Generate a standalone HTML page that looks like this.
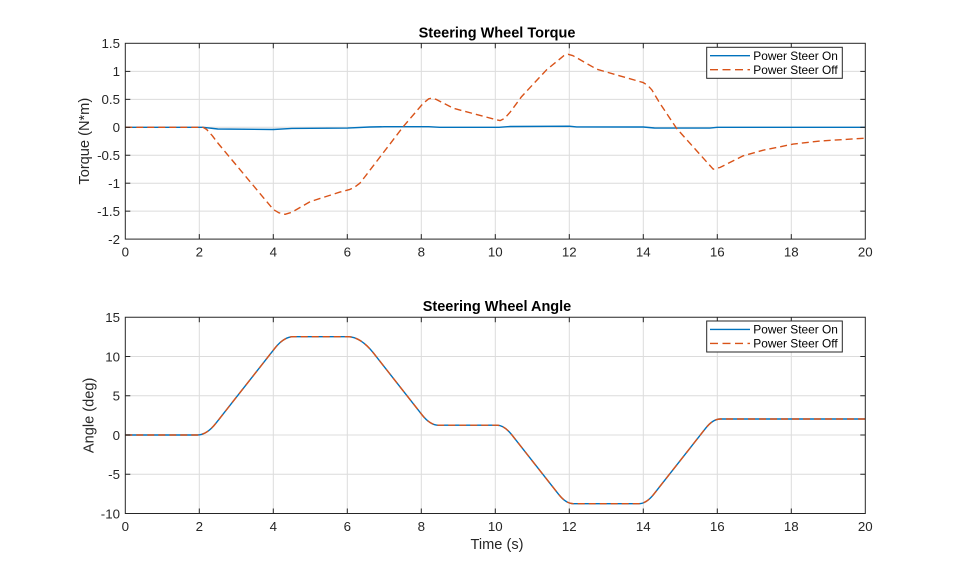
<!DOCTYPE html>
<html>
<head>
<meta charset="utf-8">
<style>
html,body{margin:0;padding:0;background:#ffffff;}
svg{display:block;}
text{font-family:"Liberation Sans",Arial,sans-serif;fill:#262626;}
.tk{font-size:13.3px;}
.ttl{font-size:14.5px;font-weight:bold;fill:#000;}
.lbl{font-size:14.6px;}
.lg{font-size:11.9px;fill:#000;}
.grid line{stroke:#dcdcdc;stroke-width:1;}
.ax{fill:none;stroke:#262626;stroke-width:1;}
.tick line{stroke:#262626;stroke-width:1;}
</style>
</head>
<body>
<svg width="959" height="577" viewBox="0 0 959 577" xmlns="http://www.w3.org/2000/svg">
<rect x="0" y="0" width="959" height="577" fill="#ffffff"/>

<!-- ================= TOP AXES ================= -->
<g class="grid">
  <line x1="199.3" y1="43.3" x2="199.3" y2="239.1"/>
  <line x1="273.3" y1="43.3" x2="273.3" y2="239.1"/>
  <line x1="347.3" y1="43.3" x2="347.3" y2="239.1"/>
  <line x1="421.3" y1="43.3" x2="421.3" y2="239.1"/>
  <line x1="495.3" y1="43.3" x2="495.3" y2="239.1"/>
  <line x1="569.3" y1="43.3" x2="569.3" y2="239.1"/>
  <line x1="643.3" y1="43.3" x2="643.3" y2="239.1"/>
  <line x1="717.3" y1="43.3" x2="717.3" y2="239.1"/>
  <line x1="791.3" y1="43.3" x2="791.3" y2="239.1"/>
  <line x1="125.3" y1="71.4" x2="865.3" y2="71.4"/>
  <line x1="125.3" y1="99.35" x2="865.3" y2="99.35"/>
  <line x1="125.3" y1="127.3" x2="865.3" y2="127.3"/>
  <line x1="125.3" y1="155.25" x2="865.3" y2="155.25"/>
  <line x1="125.3" y1="183.2" x2="865.3" y2="183.2"/>
  <line x1="125.3" y1="211.15" x2="865.3" y2="211.15"/>
</g>

<!-- Power Steer On (torque) -->
<polyline fill="none" stroke="#0072BD" stroke-width="1.4" stroke-linejoin="round"
 points="125.3,127.3 203,127.3 217.8,129.0 273.3,129.5 291.8,128.4 347.3,128.1 369.5,127.0 384.3,126.7 428.7,126.7 439.8,127.3 499,127.3 510.1,126.5 569.3,126.2 576.7,126.9 643.3,127.0 654.4,128.0 709.9,128.1 717.3,127.3 865.3,127.3"/>
<!-- Power Steer Off (torque) -->
<polyline fill="none" stroke="#D95319" stroke-width="1.4" stroke-dasharray="7,4" stroke-linejoin="round"
 points="125.3,127.3 203.0,127.3 206.7,129.5 212.3,135.7 217.8,143.0 273.3,209.5 278.9,212.8 285.1,214.3 291.8,212.3 310.3,201.6 339.9,192.1 349.9,189.4 354.7,187.1 359.9,183.2 365.1,176.5 403.2,126.7 423.2,103.3 428.7,98.8 431.7,98.2 436.1,99.35 453.5,108.3 495.3,119.5 500.1,120.6 504.6,118.4 510.1,112.2 521.6,96.6 546.7,69.7 563.8,55.7 568.2,54.3 573.0,55.7 596.7,69.2 620.0,75.9 643.3,82.6 647.7,85.4 651.8,89.8 659.9,103.3 676.6,128.4 713.2,169.2 719.9,167.5 743.2,155.8 763.2,150.2 793.2,144.1 820.2,141.0 865.3,138.2"/>

<rect class="ax" x="125.3" y="43.3" width="740" height="195.8"/>
<g class="tick">
  <!-- bottom ticks -->
  <line x1="199.3" y1="239.1" x2="199.3" y2="234.1"/><line x1="273.3" y1="239.1" x2="273.3" y2="234.1"/>
  <line x1="347.3" y1="239.1" x2="347.3" y2="234.1"/><line x1="421.3" y1="239.1" x2="421.3" y2="234.1"/>
  <line x1="495.3" y1="239.1" x2="495.3" y2="234.1"/><line x1="569.3" y1="239.1" x2="569.3" y2="234.1"/>
  <line x1="643.3" y1="239.1" x2="643.3" y2="234.1"/><line x1="717.3" y1="239.1" x2="717.3" y2="234.1"/>
  <line x1="791.3" y1="239.1" x2="791.3" y2="234.1"/>
  <!-- top ticks -->
  <line x1="199.3" y1="43.3" x2="199.3" y2="48.3"/><line x1="273.3" y1="43.3" x2="273.3" y2="48.3"/>
  <line x1="347.3" y1="43.3" x2="347.3" y2="48.3"/><line x1="421.3" y1="43.3" x2="421.3" y2="48.3"/>
  <line x1="495.3" y1="43.3" x2="495.3" y2="48.3"/><line x1="569.3" y1="43.3" x2="569.3" y2="48.3"/>
  <line x1="643.3" y1="43.3" x2="643.3" y2="48.3"/><line x1="717.3" y1="43.3" x2="717.3" y2="48.3"/>
  <line x1="791.3" y1="43.3" x2="791.3" y2="48.3"/>
  <!-- left ticks -->
  <line x1="125.3" y1="71.4" x2="130.3" y2="71.4"/><line x1="125.3" y1="99.35" x2="130.3" y2="99.35"/>
  <line x1="125.3" y1="127.3" x2="130.3" y2="127.3"/><line x1="125.3" y1="155.25" x2="130.3" y2="155.25"/>
  <line x1="125.3" y1="183.2" x2="130.3" y2="183.2"/><line x1="125.3" y1="211.15" x2="130.3" y2="211.15"/>
  <!-- right ticks -->
  <line x1="865.3" y1="71.4" x2="860.3" y2="71.4"/><line x1="865.3" y1="99.35" x2="860.3" y2="99.35"/>
  <line x1="865.3" y1="127.3" x2="860.3" y2="127.3"/><line x1="865.3" y1="155.25" x2="860.3" y2="155.25"/>
  <line x1="865.3" y1="183.2" x2="860.3" y2="183.2"/><line x1="865.3" y1="211.15" x2="860.3" y2="211.15"/>
</g>
<g class="tk" text-anchor="end">
  <text x="120" y="48.2">1.5</text>
  <text x="120" y="76.2">1</text>
  <text x="120" y="104.1">0.5</text>
  <text x="120" y="132.1">0</text>
  <text x="120" y="160">-0.5</text>
  <text x="120" y="188">-1</text>
  <text x="120" y="215.9">-1.5</text>
  <text x="120" y="243.9">-2</text>
</g>
<g class="tk" text-anchor="middle">
  <text x="125.3" y="256.5">0</text><text x="199.3" y="256.5">2</text><text x="273.3" y="256.5">4</text>
  <text x="347.3" y="256.5">6</text><text x="421.3" y="256.5">8</text><text x="495.3" y="256.5">10</text>
  <text x="569.3" y="256.5">12</text><text x="643.3" y="256.5">14</text><text x="717.3" y="256.5">16</text>
  <text x="791.3" y="256.5">18</text><text x="865.3" y="256.5">20</text>
</g>
<text class="ttl" x="497" y="37.5" text-anchor="middle">Steering Wheel Torque</text>
<text class="lbl" transform="translate(89,141.2) rotate(-90)" text-anchor="middle">Torque (N*m)</text>

<!-- top legend -->
<rect x="706.7" y="47.3" width="135.6" height="31" fill="#ffffff" stroke="#262626" stroke-width="1"/>
<line x1="710" y1="55.7" x2="750" y2="55.7" stroke="#0072BD" stroke-width="1.4"/>
<line x1="710" y1="69.7" x2="750" y2="69.7" stroke="#D95319" stroke-width="1.4" stroke-dasharray="8,4.5"/>
<text class="lg" x="753.3" y="60">Power Steer On</text>
<text class="lg" x="753.3" y="74">Power Steer Off</text>

<!-- ================= BOTTOM AXES ================= -->
<g class="grid">
  <line x1="199.3" y1="317.25" x2="199.3" y2="513.5"/>
  <line x1="273.3" y1="317.25" x2="273.3" y2="513.5"/>
  <line x1="347.3" y1="317.25" x2="347.3" y2="513.5"/>
  <line x1="421.3" y1="317.25" x2="421.3" y2="513.5"/>
  <line x1="495.3" y1="317.25" x2="495.3" y2="513.5"/>
  <line x1="569.3" y1="317.25" x2="569.3" y2="513.5"/>
  <line x1="643.3" y1="317.25" x2="643.3" y2="513.5"/>
  <line x1="717.3" y1="317.25" x2="717.3" y2="513.5"/>
  <line x1="791.3" y1="317.25" x2="791.3" y2="513.5"/>
  <line x1="125.3" y1="356.5" x2="865.3" y2="356.5"/>
  <line x1="125.3" y1="395.75" x2="865.3" y2="395.75"/>
  <line x1="125.3" y1="435" x2="865.3" y2="435"/>
  <line x1="125.3" y1="474.25" x2="865.3" y2="474.25"/>
</g>

<path fill="none" stroke="#0072BD" stroke-width="1.4" stroke-linejoin="round"
 d="M125.3,435 L197.45,435 Q206.7,435 215.95,423.2 L274.8,348.3 Q284.0,336.7 293.3,336.7 L347.7,336.7 Q360.6,336.7 373.6,353.2 L422.0,414.8 Q430.2,425.2 438.3,425.2 L496.8,425.2 Q504.2,425.2 511.6,434.6 L558.6,494.3 Q566,503.7 573.4,503.7 L638.9,503.7 Q646.3,503.7 653.7,494.3 L705.5,428.4 Q712.9,419 720.3,419 L865.3,419"/>
<path fill="none" stroke="#D95319" stroke-width="1.4" stroke-dasharray="7,4" stroke-linejoin="round"
 d="M125.3,435 L197.45,435 Q206.7,435 215.95,423.2 L274.8,348.3 Q284.0,336.7 293.3,336.7 L347.7,336.7 Q360.6,336.7 373.6,353.2 L422.0,414.8 Q430.2,425.2 438.3,425.2 L496.8,425.2 Q504.2,425.2 511.6,434.6 L558.6,494.3 Q566,503.7 573.4,503.7 L638.9,503.7 Q646.3,503.7 653.7,494.3 L705.5,428.4 Q712.9,419 720.3,419 L865.3,419"/>

<rect class="ax" x="125.3" y="317.25" width="740" height="196.25"/>
<g class="tick">
  <line x1="199.3" y1="513.5" x2="199.3" y2="508.5"/><line x1="273.3" y1="513.5" x2="273.3" y2="508.5"/>
  <line x1="347.3" y1="513.5" x2="347.3" y2="508.5"/><line x1="421.3" y1="513.5" x2="421.3" y2="508.5"/>
  <line x1="495.3" y1="513.5" x2="495.3" y2="508.5"/><line x1="569.3" y1="513.5" x2="569.3" y2="508.5"/>
  <line x1="643.3" y1="513.5" x2="643.3" y2="508.5"/><line x1="717.3" y1="513.5" x2="717.3" y2="508.5"/>
  <line x1="791.3" y1="513.5" x2="791.3" y2="508.5"/>
  <line x1="199.3" y1="317.25" x2="199.3" y2="322.25"/><line x1="273.3" y1="317.25" x2="273.3" y2="322.25"/>
  <line x1="347.3" y1="317.25" x2="347.3" y2="322.25"/><line x1="421.3" y1="317.25" x2="421.3" y2="322.25"/>
  <line x1="495.3" y1="317.25" x2="495.3" y2="322.25"/><line x1="569.3" y1="317.25" x2="569.3" y2="322.25"/>
  <line x1="643.3" y1="317.25" x2="643.3" y2="322.25"/><line x1="717.3" y1="317.25" x2="717.3" y2="322.25"/>
  <line x1="791.3" y1="317.25" x2="791.3" y2="322.25"/>
  <line x1="125.3" y1="356.5" x2="130.3" y2="356.5"/><line x1="125.3" y1="395.75" x2="130.3" y2="395.75"/>
  <line x1="125.3" y1="435" x2="130.3" y2="435"/><line x1="125.3" y1="474.25" x2="130.3" y2="474.25"/>
  <line x1="865.3" y1="356.5" x2="860.3" y2="356.5"/><line x1="865.3" y1="395.75" x2="860.3" y2="395.75"/>
  <line x1="865.3" y1="435" x2="860.3" y2="435"/><line x1="865.3" y1="474.25" x2="860.3" y2="474.25"/>
</g>
<g class="tk" text-anchor="end">
  <text x="120" y="322">15</text>
  <text x="120" y="361.3">10</text>
  <text x="120" y="400.5">5</text>
  <text x="120" y="439.8">0</text>
  <text x="120" y="479">-5</text>
  <text x="120" y="518.3">-10</text>
</g>
<g class="tk" text-anchor="middle">
  <text x="125.3" y="531">0</text><text x="199.3" y="531">2</text><text x="273.3" y="531">4</text>
  <text x="347.3" y="531">6</text><text x="421.3" y="531">8</text><text x="495.3" y="531">10</text>
  <text x="569.3" y="531">12</text><text x="643.3" y="531">14</text><text x="717.3" y="531">16</text>
  <text x="791.3" y="531">18</text><text x="865.3" y="531">20</text>
</g>
<text class="ttl" x="497" y="311.2" text-anchor="middle">Steering Wheel Angle</text>
<text class="lbl" x="497" y="549" text-anchor="middle">Time (s)</text>
<text class="lbl" transform="translate(93.5,415.4) rotate(-90)" text-anchor="middle">Angle (deg)</text>

<!-- bottom legend -->
<rect x="706.7" y="321" width="135.6" height="31" fill="#ffffff" stroke="#262626" stroke-width="1"/>
<line x1="710" y1="329.4" x2="750" y2="329.4" stroke="#0072BD" stroke-width="1.4"/>
<line x1="710" y1="343.4" x2="750" y2="343.4" stroke="#D95319" stroke-width="1.4" stroke-dasharray="8,4.5"/>
<text class="lg" x="753.3" y="333.7">Power Steer On</text>
<text class="lg" x="753.3" y="347.7">Power Steer Off</text>
</svg>
</body>
</html>
